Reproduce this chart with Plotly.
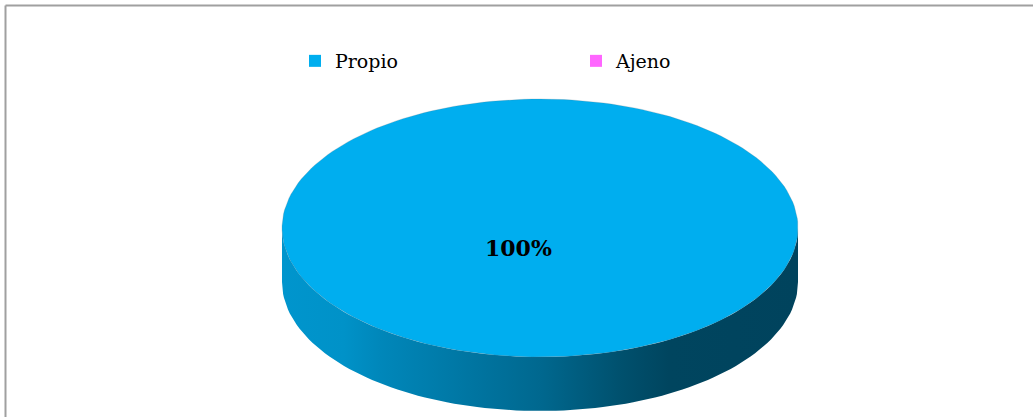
import numpy as np
import plotly.graph_objects as go

# Data
categories = ["Propio", "Ajeno"]
values = [100, 0]
colors = ["#00AEEF", "#FF66FF"]

W, H = 1033, 417

# 3D pie geometry (pixel units on hidden axes)
CX, CY = 540, 228
RX, RY = 258, 129
DEPTH = 54

# Shading of the side wall, as brightness multipliers along x
SIDE_SHADE = [(0.0, 0.86), (0.12, 0.84), (0.19, 0.78), (0.5, 0.60),
              (0.66, 0.46), (0.75, 0.40), (1.0, 0.39)]


def shade(hex_color, f):
    h = hex_color.lstrip("#")
    r, g, b = (int(h[i:i + 2], 16) for i in (0, 2, 4))
    return "rgb({},{},{})".format(int(r * f), int(g * f), int(b * f))


def arc(a0, a1, dy=0.0, n=200):
    t = np.linspace(a0, a1, max(3, int(n * abs(a1 - a0) / (2 * np.pi)) + 3))
    return CX + RX * np.sin(t), CY - RY * np.cos(t) + dy


fig = go.Figure()

total = float(sum(values))
start = 0.0
slices = []
for name, v, c in zip(categories, values, colors):
    frac = v / total if total else 0
    a0, a1 = start * 2 * np.pi, (start + frac) * 2 * np.pi
    start += frac
    slices.append((name, frac, a0, a1, c))

# Side walls (front half of the ellipse, angles pi/2 .. 3pi/2)
for name, frac, a0, a1, c in slices:
    if frac <= 0:
        continue
    b0, b1 = max(a0, np.pi / 2), min(a1, 3 * np.pi / 2)
    if b1 <= b0:
        continue
    xt, yt = arc(b0, b1)
    xb, yb = arc(b1, b0, DEPTH)
    xs = np.concatenate([xt, xb, xt[:1]])
    ys = np.concatenate([yt, yb, yt[:1]])
    fig.add_trace(go.Scatter(
        x=xs, y=ys, mode="lines", fill="toself", line=dict(width=0),
        fillgradient=dict(type="horizontal", start=CX - RX, stop=CX + RX,
                          colorscale=[[p, shade(c, f)] for p, f in SIDE_SHADE]),
        hoverinfo="skip", showlegend=False))

# Top faces
for name, frac, a0, a1, c in slices:
    if frac <= 0:
        continue
    xa, ya = arc(a0, a1)
    if frac >= 0.9999:
        xs, ys = xa, ya
    else:
        xs = np.concatenate([[CX], xa, [CX]])
        ys = np.concatenate([[CY], ya, [CY]])
    fig.add_trace(go.Scatter(
        x=xs, y=ys, mode="lines", fill="toself", fillcolor=c,
        line=dict(width=0.6, color="rgba(90,110,120,0.35)"),
        hoverinfo="skip", showlegend=False))

# Percentage labels
for name, frac, a0, a1, c in slices:
    if frac <= 0:
        continue
    fig.add_annotation(x=518, y=248, xref="x", yref="y",
                       text="<b>{:.0f}%</b>".format(frac * 100),
                       showarrow=False,
                       font=dict(family="DejaVu Serif", size=22, color="#000000"))

# Legend entries
for name, c in zip(categories, colors):
    fig.add_trace(go.Scatter(
        x=[None], y=[None], mode="markers", name=name,
        marker=dict(symbol="square", size=12, color=c, line=dict(width=0))))

# White margin strip on the right edge
fig.add_shape(type="rect", xref="paper", yref="paper",
              x0=1020 / W, x1=1.1, y0=-0.1, y1=1 - 7 / H,
              fillcolor="white", line=dict(width=0), layer="above")

# Chart frame (top and left edges)
fig.add_shape(type="line", xref="paper", yref="paper",
              x0=5.5 / W, x1=1.2, y0=1 - 5.5 / H, y1=1 - 5.5 / H,
              line=dict(color="#A0A0A0", width=2), layer="above")
fig.add_shape(type="line", xref="paper", yref="paper",
              x0=5.5 / W, x1=5.5 / W, y0=-0.2, y1=1 - 5.5 / H,
              line=dict(color="#A0A0A0", width=2), layer="above")

fig.update_layout(
    width=W, height=H,
    margin=dict(l=0, r=0, t=0, b=0),
    paper_bgcolor="white", plot_bgcolor="white",
    xaxis=dict(range=[0, W], visible=False, fixedrange=True),
    yaxis=dict(range=[H, 0], visible=False, fixedrange=True),
    showlegend=True,
    legend=dict(orientation="h", x=295 / W, y=1 - 42 / H,
                xanchor="left", yanchor="top",
                entrywidth=236, entrywidthmode="pixels",
                itemwidth=30,
                font=dict(family="DejaVu Serif", size=19, color="#000000"),
                bgcolor="rgba(0,0,0,0)"),
)

fig.write_html("out.html", config={"displayModeBar": False})
